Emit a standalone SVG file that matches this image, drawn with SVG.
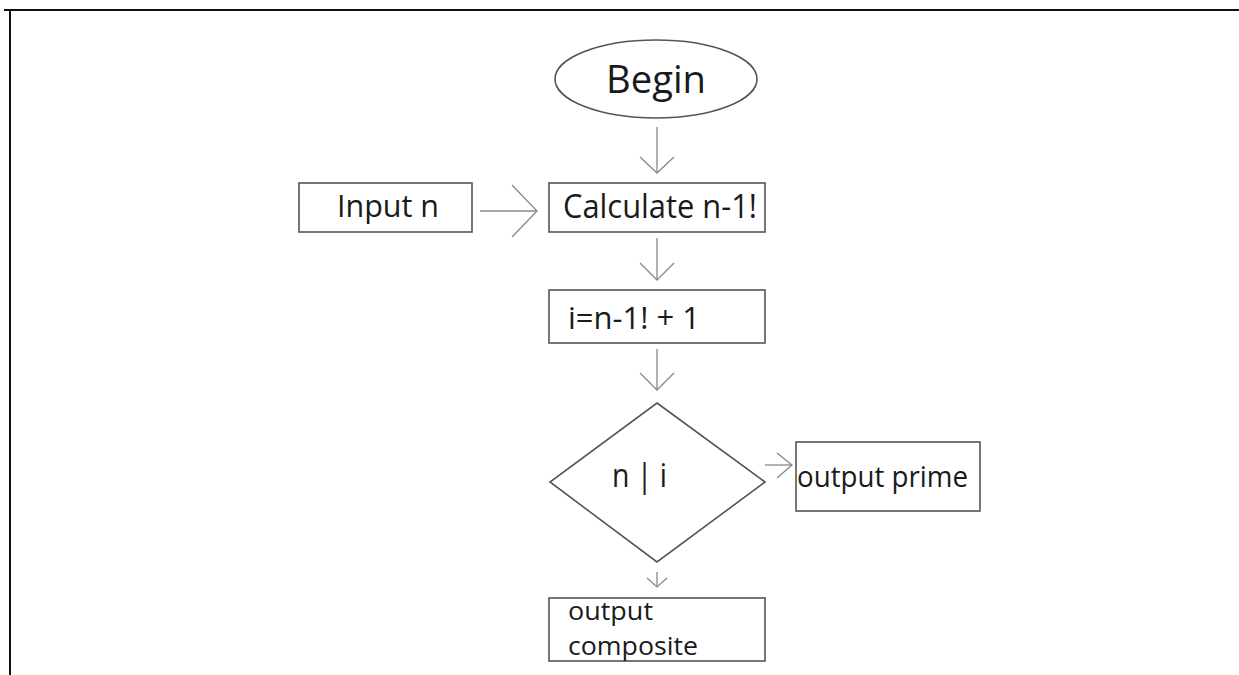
<svg xmlns="http://www.w3.org/2000/svg" width="1239" height="675" viewBox="0 0 1239 675">
  <defs>
    <style>
      .frame { fill: none; stroke: #111; stroke-width: 2; }
      .box { fill: #fff; stroke: #555; stroke-width: 1.6; }
      .flow { fill: none; stroke: #888; stroke-width: 1.3; }
      .lbl { font-family: "Open Sans", "Noto Sans", sans-serif; fill: #1a1a1a; }
    </style>
  </defs>
  <rect width="1239" height="675" fill="#fff"/>
  <!-- page frame: top and left edges only -->
  <polyline class="frame" points="4,10 1239,10"/>
  <polyline class="frame" points="10,10 10,675"/>

  <g id="connectors">
    <!-- Begin -> Calculate -->
    <line class="flow" x1="657" y1="127" x2="657" y2="173"/>
    <polyline class="flow" points="640,157 657,173 674,157"/>
    <!-- Input n -> Calculate -->
    <line class="flow" x1="480" y1="211" x2="537" y2="211"/>
    <polyline class="flow" points="512,185 537,211 512,237"/>
    <!-- Calculate -> i -->
    <line class="flow" x1="657" y1="238" x2="657" y2="280"/>
    <polyline class="flow" points="640,263 657,280 674,263"/>
    <!-- i -> decision -->
    <line class="flow" x1="657" y1="349" x2="657" y2="390"/>
    <polyline class="flow" points="640,373 657,390 674,373"/>
    <!-- decision -> output prime -->
    <line class="flow" x1="765" y1="465" x2="792" y2="465"/>
    <polyline class="flow" points="777,453 792,465 777,478"/>
    <!-- decision -> output composite -->
    <line class="flow" x1="657" y1="572" x2="657" y2="587"/>
    <polyline class="flow" points="647,578 657,587 667,578"/>
  </g>

  <g id="begin">
    <ellipse class="box" cx="656" cy="79" rx="101" ry="39"/>
    <text class="lbl" x="606" y="93" font-size="39" textLength="100" lengthAdjust="spacingAndGlyphs">Begin</text>
  </g>

  <g id="input-n">
    <rect class="box" x="299" y="183" width="173" height="49"/>
    <text class="lbl" x="337" y="217" font-size="31" textLength="102" lengthAdjust="spacingAndGlyphs">Input n</text>
  </g>

  <g id="calculate">
    <rect class="box" x="549" y="183" width="216" height="49"/>
    <text class="lbl" x="563" y="218" font-size="32" textLength="194" lengthAdjust="spacingAndGlyphs">Calculate n-1!</text>
  </g>

  <g id="assign-i">
    <rect class="box" x="549" y="290" width="216" height="53"/>
    <text class="lbl" x="568" y="329" font-size="31" textLength="132" lengthAdjust="spacingAndGlyphs">i=n-1! + 1</text>
  </g>

  <g id="decision">
    <polygon class="box" points="657,403 765,482 657,562 550,482"/>
    <text class="lbl" x="612" y="487" font-size="33" textLength="55" lengthAdjust="spacingAndGlyphs">n | i</text>
  </g>

  <g id="output-prime">
    <rect class="box" x="796" y="442" width="184" height="69"/>
    <text class="lbl" x="797" y="487" font-size="30" textLength="171" lengthAdjust="spacingAndGlyphs">output prime</text>
  </g>

  <g id="output-composite">
    <rect class="box" x="549" y="598" width="216" height="63"/>
    <text class="lbl" x="568" y="620" font-size="25" textLength="85" lengthAdjust="spacingAndGlyphs">output</text>
    <text class="lbl" x="568" y="655" font-size="25" textLength="130" lengthAdjust="spacingAndGlyphs">composite</text>
  </g>
</svg>
